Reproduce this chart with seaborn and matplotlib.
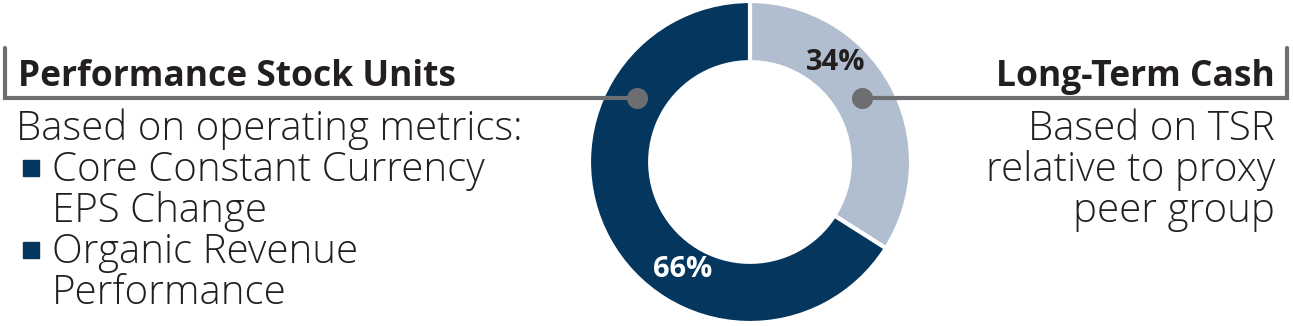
import matplotlib
matplotlib.use("Agg")
import matplotlib.pyplot as plt
import seaborn as sns

sns.set_theme(style="white")
plt.rcParams['font.family'] = ['Open Sans', 'DejaVu Sans']

# ---- data ----
categories = ["Long-Term Cash", "Performance Stock Units"]
shares = [34, 66]
pct_labels = ["34%", "66%"]
left_title = "Performance Stock Units"
left_lines = ["Based on operating metrics:"]
left_bullets = [["Core Constant Currency", "EPS Change"], ["Organic Revenue", "Performance"]]
right_title = "Long-Term Cash"
right_lines = ["Based on TSR", "relative to proxy", "peer group"]

NAVY = "#05365E"
LIGHT = "#B0BECF"
TXT = "#231F20"
GREY = "#6D6E71"

W, H = 1293, 326
fig = plt.figure(figsize=(W / 100, H / 100), dpi=100)

ov = fig.add_axes([0, 0, 1, 1])
ov.set_xlim(0, W)
ov.set_ylim(H, 0)
ov.axis("off")

cx, cy, R = 750, 162, 161
pax = fig.add_axes([(cx - R) / W, (H - cy - R) / H, 2 * R / W, 2 * R / H])
pax.pie(shares, colors=[LIGHT, NAVY], startangle=90, counterclock=False,
        radius=1.0, wedgeprops=dict(width=0.38, edgecolor="white", linewidth=3))
pax.set_xlim(-1, 1)
pax.set_ylim(-1, 1)
pax.set_aspect("equal")
pax.axis("off")
pax.set_zorder(1)
ov.set_zorder(2)
ov.patch.set_alpha(0)

pax.text(0.53, 0.62, pct_labels[0], color=TXT, fontsize=21, fontweight="bold",
         ha="center", va="center")
pax.text(-0.42, -0.67, pct_labels[1], color="white", fontsize=21, fontweight="bold",
         ha="center", va="center")

lw = 3
ov.plot([5, 5, 637], [48, 98, 98], color=GREY, lw=lw, solid_joinstyle="miter")
ov.plot([862, 1287, 1287], [98, 98, 48], color=GREY, lw=lw, solid_joinstyle="miter")
ov.scatter([637, 862], [98, 98], s=230, color=GREY, zorder=5, linewidths=0)

tfs = 25.5
ov.text(18, 86, left_title, fontsize=tfs, fontweight="bold", color=TXT, ha="left", va="baseline")
fs = 29
ov.text(16, 140, left_lines[0], fontsize=fs, fontweight="light", color=TXT, ha="left", va="baseline")
y = 181
for item in left_bullets:
    ov.add_patch(plt.Rectangle((23, y - 21), 16, 16, color=NAVY))
    for ln in item:
        ov.text(52, y, ln, fontsize=fs, fontweight="light", color=TXT, ha="left", va="baseline")
        y += 41

ov.text(1275, 86, right_title, fontsize=tfs, fontweight="bold", color=TXT, ha="right", va="baseline")
y = 140
for ln in right_lines:
    ov.text(1275, y, ln, fontsize=fs, fontweight="light", color=TXT, ha="right", va="baseline")
    y += 41

fig.savefig("out.png", dpi=100)
